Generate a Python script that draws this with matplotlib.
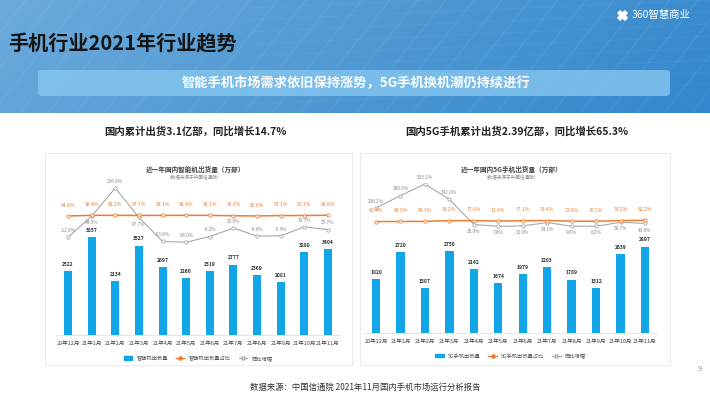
import numpy as np
import matplotlib.pyplot as plt
from matplotlib.patches import FancyBboxPatch, Rectangle, Patch
from matplotlib.lines import Line2D

plt.rcParams['font.family'] = ['Noto Sans CJK SC', 'DejaVu Sans']

months = ["20年12月", "21年1月", "21年2月", "21年3月", "21年4月", "21年5月",
          "21年6月", "21年7月", "21年8月", "21年9月", "21年10月", "21年11月"]

# 智能机 (万部 / %)
smart_ship = [2522, 3857, 2134, 3527, 2697, 2260, 2519, 2777, 2369, 2081, 3280, 3404]
smart_share = [94.8, 98.4, 98.2, 97.7, 98.1, 98.4, 98.1, 96.0, 95.0, 97.1, 97.3, 98.8]
smart_yoy = [-12.9, 94.5, 236.6, 87.7, -33.8, -38.0, -9.2, 33.6, -6.9, -5.4, 39.7, 25.7]
smart_yoy_above = [True, False, True, False, True, True, True, True, True, True, True, True]

# 5G手机
g5_ship = [1820, 2720, 1507, 2750, 2142, 1674, 1979, 2203, 1789, 1512, 2639, 2897]
g5_share = [66.4, 68.0, 69.3, 78.2, 77.9, 72.9, 77.1, 79.6, 72.0, 70.5, 79.2, 82.2]
g5_yoy = [236.2, 389.6, 533.2, 342.0, 30.0, 7.8, 13.0, 54.1, 9.6, 8.2, 58.7, 43.8]
g5_yoy_above = [True, True, True, True, False, False, False, False, False, False, False, False]

BLUE = "#12a5e8"
ORANGE = "#ed7d31"
GRAY = "#a8a8a8"

W, H = 710, 399
fig = plt.figure(figsize=(7.1, 3.99), dpi=100)
bg = fig.add_axes([0, 0, 1, 1])
bg.set_xlim(0, W)
bg.set_ylim(H, 0)
bg.axis("off")

# --- header ---
gx, gy = np.meshgrid(np.linspace(0, 1, 300), np.linspace(0, 1, 60))
t = np.clip(gx * 0.85 + gy * 0.15, 0, 1)[..., None]
c1 = np.array([0.42, 0.67, 0.86])
c2 = np.array([0.20, 0.53, 0.80])
bg.imshow(c1 * (1 - t) + c2 * t, extent=(0, W, 113, 0), aspect="auto", zorder=0)
for x0 in range(-120, 720, 28):
    bg.plot([x0, x0 + 90], [113, 0], color="white", alpha=0.07, lw=0.8, zorder=1)
for yy in range(8, 113, 12):
    bg.plot([250, 710], [yy, yy - 20], color="white", alpha=0.05, lw=0.6, zorder=1)
bg.set_xlim(0, W)
bg.set_ylim(H, 0)

bg.text(8, 44, "手机行业2021年行业趋势", fontsize=14.5, fontweight="bold",
        color="#151515", va="center", ha="left", zorder=3)

banner = FancyBboxPatch((38, 70), 632, 26, boxstyle="round,pad=0,rounding_size=4",
                        fc="#86c6f0", ec="none", alpha=0.8, zorder=2)
bg.add_patch(banner)
bg.text(356, 83, "智能手机市场需求依旧保持涨势，5G手机换机潮仍持续进行", fontsize=9.5,
        fontweight="bold", color="white", ha="center", va="center", zorder=3)

bg.scatter([622], [15], marker="X", s=45, color="white", zorder=3)
bg.text(632, 15, "360智慧商业", fontsize=7.5, color="white", ha="left", va="center", zorder=3)

# --- subtitles ---
bg.text(195, 131, "国内累计出货3.1亿部，同比增长14.7%", fontsize=7.5, fontweight="bold",
        color="#222222", ha="center", va="center")
bg.text(517, 131, "国内5G手机累计出货2.39亿部，同比增长65.3%", fontsize=7.5, fontweight="bold",
        color="#222222", ha="center", va="center")

# panels
bg.add_patch(Rectangle((45, 153), 307, 212, fc="white", ec="#e8e8e8", lw=0.6))
bg.add_patch(Rectangle((360, 153), 310, 212, fc="white", ec="#e8e8e8", lw=0.6))

bg.text(195, 169, "近一年国内智能机出货量（万部）", fontsize=4.8, fontweight="bold",
        color="#444444", ha="center", va="center")
bg.text(195, 177, "（数据来源于中国信通院）", fontsize=3.3, color="#888888", ha="center", va="center")
bg.text(512, 169, "近一年国内5G手机出货量（万部）", fontsize=4.8, fontweight="bold",
        color="#444444", ha="center", va="center")
bg.text(512, 177, "（数据来源于中国信通院）", fontsize=3.3, color="#888888", ha="center", va="center")

# footer
bg.text(250, 387, "数据来源：中国信通院 2021年11月国内手机市场运行分析报告", fontsize=6,
        color="#333333", ha="left", va="center")
bg.text(700, 369, "9", fontsize=5.5, color="#999999", ha="center", va="center")


def draw_chart(rect, ship, share, yoy, yoy_above, ylim1, ylim2, names):
    ax = fig.add_axes(rect)
    ax.patch.set_alpha(0)
    x = np.arange(len(months))
    ax.bar(x, ship, width=0.34, color=BLUE, zorder=2)
    ax.set_xlim(-0.5, len(months) - 0.5)
    ax.set_ylim(0, ylim1)
    for i, v in enumerate(ship):
        ax.annotate(str(v), (i, v), xytext=(0, 3), textcoords="offset points",
                    ha="center", va="bottom", fontsize=3.6, fontweight="bold", color="#333333")
    ax.set_xticks(x)
    ax.set_xticklabels(months, fontsize=4, color="#444444")
    ax.tick_params(axis="x", length=0, pad=4)
    ax.set_yticks([])
    for s in ["top", "left", "right"]:
        ax.spines[s].set_visible(False)
    ax.spines["bottom"].set_color("#e0e0e0")
    ax.spines["bottom"].set_linewidth(0.6)

    ax2 = ax.twinx()
    ax2.set_ylim(*ylim2)
    ax2.axis("off")
    ax2.plot(x, share, color=ORANGE, lw=1.1, marker="o", ms=2.4, mfc="white",
             mec=ORANGE, mew=0.6, zorder=4)
    ax2.plot(x, yoy, color=GRAY, lw=0.8, marker="o", ms=2.4, mfc="white",
             mec=GRAY, mew=0.6, zorder=3)
    for i, v in enumerate(share):
        ax2.annotate(f"{v:.1f}%", (i, v), xytext=(0, 6), textcoords="offset points",
                     ha="center", va="bottom", fontsize=3.6, color=ORANGE)
    for i, v in enumerate(yoy):
        up = yoy_above[i]
        ax2.annotate(f"{v:.1f}%", (i, v), xytext=(0, 3 if up else -3), textcoords="offset points",
                     ha="center", va="bottom" if up else "top", fontsize=3.4, color="#888888")

    handles = [Patch(color=BLUE),
               Line2D([], [], color=ORANGE, lw=1, marker="D", ms=2, mfc=ORANGE),
               Line2D([], [], color=GRAY, lw=0.8, marker="o", ms=2.2, mfc="white")]
    ax.legend(handles, names, loc="upper center", bbox_to_anchor=(0.5, -0.105), ncol=3,
              frameon=False, fontsize=3.8, handlelength=1.6, handleheight=0.6,
              columnspacing=1.5, labelcolor="#555555")
    return ax


draw_chart([56.2 / W, 1 - 335 / H, 283.6 / W, 152 / H], smart_ship, smart_share, smart_yoy,
           smart_yoy_above, 6000, (-508, 262), ["智能机出货量", "智能机出货量占比", "同比增幅"])
draw_chart([363.8 / W, 1 - 333 / H, 293.4 / W, 150 / H], g5_ship, g5_share, g5_yoy,
           g5_yoy_above, 5030, (-1318, 546), ["5G手机出货量", "5G手机出货量占比", "同比增幅"])

plt.savefig("out.png", dpi=100)
